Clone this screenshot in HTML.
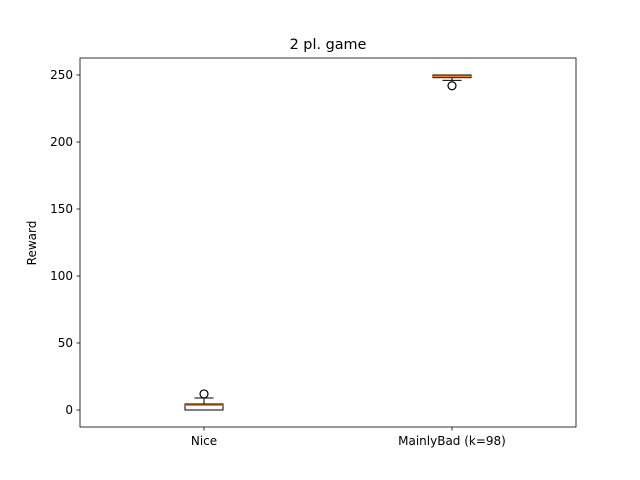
<!DOCTYPE html>
<html><head><meta charset="utf-8"><style>body{margin:0;background:#fff}svg{display:block}text{font-family:"DejaVu Sans","Liberation Sans",sans-serif;fill:#000}</style></head>
<body>
<svg id="c" width="640" height="480">
<rect x="0" y="0" width="640" height="480" fill="#fff"/>
<text x="328" y="49" font-size="14.4" text-anchor="middle">2 pl. game</text>
<text transform="translate(36,243) rotate(-90)" font-size="12" text-anchor="middle">Reward</text>
<g id="plot"></g>
<rect x="80" y="58" width="496" height="369" fill="none" stroke="#000" stroke-width="0.8"/>
</svg>
<script>
const categories=["Nice","MainlyBad (k=98)"];
const whiskerLow=[0,246];
const q1=[0,248];
const medians=[3.5,249];
const q3=[4.5,250];
const whiskerHigh=[9,250];
const outliers=[[12],[242]];
const yTicks=[0,50,100,150,200,250];
const NS="http://www.w3.org/2000/svg";
const svg=document.getElementById('plot');
const L=80,R=576,T=58,B=427;
const y=v=>410-v*1.34;
const x=i=>204+i*248;
function mk(t,a){const e=document.createElementNS(NS,t);for(const k in a)e.setAttribute(k,a[k]);svg.appendChild(e);return e;}
yTicks.forEach(v=>{
 const l=mk('line',{x1:L-3.5,x2:L,y1:y(v),y2:y(v),stroke:'#000','stroke-width':0.8});
 
 
 const t=mk('text',{x:L-7,y:y(v)+4,'font-size':12,'text-anchor':'end'});t.textContent=v;
 
 
});
categories.forEach((c,i)=>{
 const cx=x(i),hw=19;
 const tk=mk('line',{x1:cx,x2:cx,y1:B,y2:B+3.5,stroke:'#000','stroke-width':0.8});
 
 
 const t=mk('text',{x:cx,y:B+18,'font-size':12,'text-anchor':'middle'});t.textContent=c;
 
 
 const w1=mk('line',{x1:cx,x2:cx,y1:y(q3[i]),y2:y(whiskerHigh[i]),stroke:'#000'});
 
 
 const w2=mk('line',{x1:cx,x2:cx,y1:y(q1[i]),y2:y(whiskerLow[i]),stroke:'#000'});
 
 
 [whiskerHigh[i],whiskerLow[i]].forEach(v=>{const cp=mk('line',{x1:cx-9.5,x2:cx+9.5,y1:y(v),y2:y(v),stroke:'#000'});
  
  });
 const b=mk('rect',{x:cx-hw,y:y(q3[i]),width:hw*2,height:Math.max(y(q1[i])-y(q3[i]),0.5),fill:'#fff',stroke:'#000'});
 
 
 const m=mk('line',{x1:cx-hw,x2:cx+hw,y1:y(medians[i]),y2:y(medians[i]),stroke:'#ff7f0e','stroke-width':1.5});
 
 
 outliers[i].forEach(v=>{const o=mk('circle',{cx:cx,cy:y(v),r:4,fill:'none',stroke:'#000','stroke-width':1.2});
  
  });
});
</script>
</body></html>
